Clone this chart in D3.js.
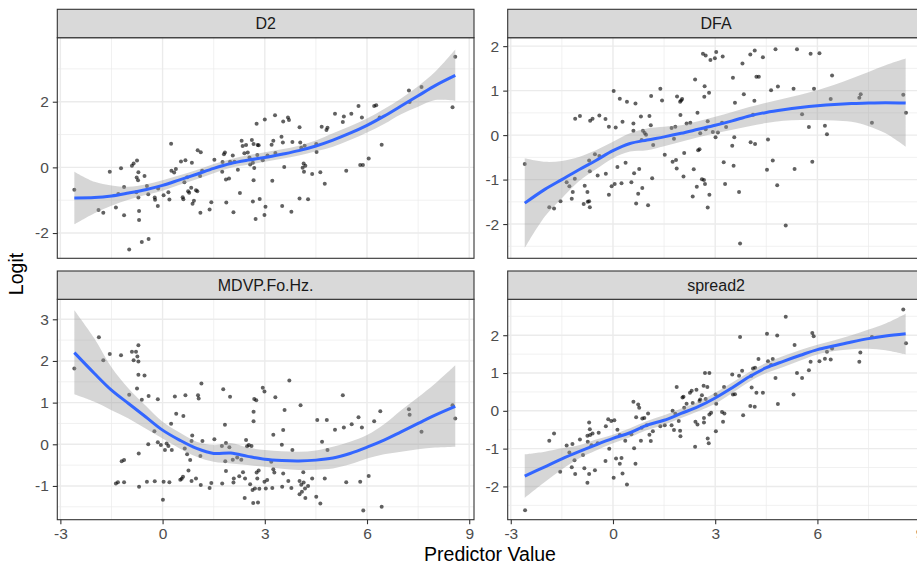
<!DOCTYPE html>
<html>
<head>
<meta charset="utf-8">
<script src="https://cdn.jsdelivr.net/npm/d3@7"></script>
<style>
  body { margin: 0; background: #fff; }
  svg { display: block; }
  text { font-family: "Liberation Sans", Arial, Helvetica, sans-serif; }
</style>
</head>
<body>
<div id="chart"></div>
<script>
// facet names, in the order they are drawn
var facets = ["D2", "DFA", "MDVP.Fo.Hz.", "spread2"];

// x axis is shared by all four panels
var xTicks = [-3, 0, 3, 6, 9];
var xLimits = [-3.09, 9.14];

// y axes are free
var d2Ticks = [-2, 0, 2];
var dfaTicks = [-2, -1, 0, 1, 2];
var mdvpTicks = [-1, 0, 1, 2, 3];
var spreadTicks = [-2, -1, 0, 1, 2];

var d2Limits = [-2.77, 3.95];
var dfaLimits = [-2.77, 2.19];
var mdvpLimits = [-1.81, 3.48];
var spreadLimits = [-2.88, 2.95];

// ---- points ----
var d2X = [-2.59,-1.88,-1.74,-1.55,-1.37,-1.30,-1.22,-1.13,-1.13,-0.98,-0.90,-0.85,-0.75,-0.76,-0.72,-0.71,-0.77,-0.71,-0.69,-0.69,
  -0.61,-0.53,-0.46,-0.42,-0.41,-0.23,-0.22,-0.14,-0.13,0.03,0.17,0.20,0.25,0.26,0.34,0.39,0.54,0.59,0.61,0.67,
  0.64,0.72,0.75,0.78,0.84,0.86,0.88,0.92,0.98,1.02,1.03,1.12,1.11,1.16,1.10,1.38,1.43,1.52,1.75,1.76,
  1.80,1.83,1.86,1.87,1.95,1.98,2.06,2.08,2.11,2.21,2.27,2.32,2.35,2.40,2.45,2.50,2.55,2.57,2.62,2.65,
  2.67,2.67,2.69,2.65,2.73,2.76,2.79,2.78,2.82,2.85,2.94,3.00,3.02,2.99,3.08,3.20,3.22,3.25,3.30,3.31,
  3.49,3.51,3.53,3.54,3.57,3.68,3.71,3.78,3.81,4.02,4.02,4.04,4.07,4.11,4.14,4.15,4.19,4.17,4.27,4.39,
  4.51,4.52,4.63,4.67,4.76,4.81,4.84,5.06,5.29,5.32,5.39,5.54,5.75,5.80,5.88,5.85,6.05,6.21,6.27,6.37,
  6.43,7.23,7.25,7.60,8.51,8.59];
var d2Y = [-0.68,-1.30,-1.38,-0.13,-1.22,-0.81,-0.03,-0.60,-1.46,-2.50,0.05,0.12,0.21,-0.31,-0.39,-0.15,-0.76,-0.92,-1.33,-1.60,
  -2.27,-0.26,-0.57,-0.82,-2.18,-0.92,-0.99,-1.18,-0.64,-0.85,-0.76,-0.98,0.72,-0.10,-0.16,-0.05,0.18,-0.91,-0.97,0.22,
  -0.45,-0.30,-0.73,-0.77,-0.62,0.14,-1.11,-1.02,-0.70,-0.73,0.52,0.46,-1.38,-0.10,-0.26,-1.28,-1.06,0.23,-0.13,0.16,
  0.40,0.45,-0.37,-1.07,-0.34,0.17,0.36,-1.37,0.17,-0.07,-0.78,0.81,0.65,0.43,0.68,0.45,0.30,0.09,0.83,0.14,
  0.71,-0.39,-0.02,-1.04,-1.57,1.33,0.68,0.38,0.67,-0.96,0.22,1.46,-1.20,-1.45,0.36,0.69,-0.41,0.81,1.59,0.44,
  0.93,-1.18,0.76,1.40,0.01,1.52,1.44,-1.35,0.77,1.22,-0.95,0.76,0.60,-0.01,0.12,-0.13,0.05,0.66,-0.97,-0.20,
  0.71,0.47,-0.15,1.24,-0.50,1.14,1.21,1.63,1.38,1.55,-0.10,1.63,1.87,0.07,0.07,1.52,0.27,1.87,1.89,1.52,
  0.69,2.34,1.99,2.45,1.83,3.37];

var dfaX = [-2.59,-1.87,-1.73,-1.54,-1.36,-1.28,-1.21,-1.18,-1.12,-1.11,-0.97,-0.86,-0.83,-0.75,-0.74,-0.70,-0.68,-0.70,-0.68,-0.67,
  -0.60,-0.53,-0.45,-0.40,-0.40,-0.22,-0.21,-0.12,-0.12,-0.04,0.05,0.02,0.08,0.13,0.20,0.25,0.28,0.37,0.41,0.54,
  0.60,0.60,0.62,0.66,0.68,0.74,0.77,0.82,0.84,0.86,0.88,0.93,0.97,1.03,1.07,1.11,1.12,1.15,1.18,1.39,
  1.44,1.52,1.72,1.75,1.79,1.83,1.85,1.88,1.87,1.97,1.98,2.00,2.03,2.09,2.07,2.16,2.27,2.34,2.37,2.41,
  2.46,2.48,2.50,2.54,2.56,2.61,2.64,2.67,2.68,2.69,2.70,2.72,2.72,2.78,2.78,2.82,2.83,2.86,2.93,2.99,
  3.01,3.03,3.08,3.20,3.22,3.25,3.29,3.32,3.50,3.52,3.54,3.56,3.58,3.70,3.73,3.80,3.84,4.03,4.04,4.11,
  4.15,4.16,4.17,4.21,4.28,4.40,4.52,4.55,4.64,4.69,4.77,4.82,4.84,5.07,5.30,5.33,5.40,5.55,5.75,5.80,
  5.85,5.90,6.06,6.22,6.28,6.39,6.43,7.23,7.27,7.60,8.52,8.60];
var dfaY = [-0.65,-1.62,-1.65,-1.49,-1.06,-1.15,-1.43,-1.28,-0.98,0.37,0.43,-1.55,-1.14,-1.28,-1.50,-1.49,-1.62,-0.57,-0.81,0.32,
  0.37,-0.43,-0.91,0.44,-0.47,0.36,-0.87,0.19,-1.34,-1.15,-1.10,0.99,0.17,-0.72,0.82,-1.08,0.30,-0.62,0.75,-1.06,
  0.26,0.10,-0.86,0.71,-1.54,-1.32,-0.76,0.42,-0.11,-1.19,0.10,0.05,0.01,-1.58,0.43,0.22,0.88,-0.97,-0.22,1.04,
  0.78,-0.44,0.16,-0.60,-0.08,0.19,-0.56,0.87,-0.75,0.75,0.45,0.78,0.81,-0.40,-0.93,0.26,0.28,-1.38,-0.77,1.25,
  -1.16,0.50,-0.34,-0.32,0.04,-0.99,1.83,-1.01,0.86,1.10,-1.10,1.79,0.13,0.31,-1.63,0.95,-1.34,1.69,0.07,1.73,
  -0.05,1.87,0.06,0.28,1.77,-0.61,-1.10,0.18,-0.24,1.29,-0.69,-0.05,0.73,-1.28,-2.44,1.61,0.92,1.81,-0.16,0.46,
  0.77,1.90,-0.20,1.31,1.31,1.75,-0.78,-0.10,1.01,-0.57,1.93,-1.13,1.09,-2.03,1.04,-0.76,1.93,0.47,0.18,1.83,
  -0.60,1.04,1.84,0.21,0.02,0.81,1.34,0.84,0.92,0.28,0.91,0.50];

var mdvpX = [-2.59,-1.87,-1.74,-1.55,-1.37,-1.31,-1.22,-1.20,-1.13,-1.13,-0.98,-0.90,-0.85,-0.78,-0.75,-0.74,-0.71,-0.71,-0.71,-0.70,
  -0.69,-0.61,-0.53,-0.46,-0.42,-0.41,-0.24,-0.23,-0.14,-0.14,-0.05,0.01,0.03,0.07,0.12,0.17,0.20,0.25,0.27,0.36,
  0.40,0.52,0.56,0.60,0.61,0.65,0.67,0.72,0.76,0.81,0.85,0.87,0.85,0.98,1.04,1.06,1.11,1.12,1.14,1.17,
  1.38,1.43,1.52,1.74,1.75,1.78,1.83,1.84,1.86,1.86,1.96,1.98,2.06,2.08,2.09,2.19,2.25,2.31,2.36,2.41,
  2.42,2.45,2.48,2.53,2.57,2.61,2.64,2.66,2.67,2.67,2.69,2.71,2.75,2.76,2.78,2.82,2.80,2.84,2.94,2.99,
  2.99,3.03,3.07,3.19,3.22,3.25,3.25,3.28,3.31,3.50,3.51,3.54,3.54,3.58,3.69,3.72,3.78,3.81,4.02,4.02,
  4.05,4.07,4.09,4.13,4.14,4.18,4.19,4.27,4.39,4.51,4.54,4.63,4.68,4.76,4.82,4.84,5.06,5.29,5.32,5.39,
  5.55,5.75,5.80,5.85,5.89,6.05,6.21,6.39,6.43,7.23,7.25,7.60,8.51,8.59];
var mdvpY = [1.82,2.57,2.02,2.17,-0.94,-0.91,2.14,-0.41,-0.38,-0.91,1.19,2.22,2.02,2.22,1.34,2.11,1.99,2.38,1.67,-0.22,
  -1.02,1.07,1.65,-0.90,0.00,1.16,0.31,-0.89,1.08,0.05,-0.02,-1.33,-0.90,-0.14,0.02,-0.04,-0.91,0.49,-0.14,1.15,
  0.73,-0.85,-0.83,-0.78,0.68,-0.10,1.18,-0.24,-0.63,-0.38,-0.88,0.21,0.08,-0.82,1.18,1.10,-0.28,-0.98,1.46,0.08,
  -1.05,-0.93,0.12,-0.04,-0.94,1.32,0.47,-0.41,0.03,-0.64,-0.07,1.14,-0.37,-0.92,-0.82,-0.32,-0.77,-0.37,-0.67,-1.29,
  -0.82,0.10,-0.05,-0.02,-0.96,-0.04,-1.10,-1.41,0.78,0.55,1.09,-1.06,1.06,-0.68,-0.82,-0.63,-1.40,-1.07,1.36,1.27,
  -0.90,-1.06,-0.86,-0.42,-1.05,0.23,-0.60,-0.68,1.13,-0.01,-1.02,-0.70,0.34,0.82,-0.88,1.53,-1.05,-0.14,-0.88,-1.20,
  0.94,-0.97,-1.14,-0.67,-0.92,-1.06,-1.29,-1.00,-0.82,-1.26,0.58,-1.42,0.06,-0.82,0.58,-0.14,0.35,1.18,0.40,-0.91,
  0.48,0.65,-0.90,0.40,-1.59,-0.76,0.55,0.79,-1.50,0.84,0.71,0.30,0.94,0.62];

var spreadX = [-2.58,-1.87,-1.73,-1.55,-1.36,-1.28,-1.19,-1.21,-1.13,-1.11,-0.97,-0.88,-0.84,-0.75,-0.75,-0.74,-0.70,-0.70,-0.68,-0.67,
  -0.63,-0.60,-0.53,-0.45,-0.42,-0.22,-0.21,-0.14,-0.11,-0.05,0.02,0.04,0.09,0.13,0.20,0.20,0.25,0.28,0.36,0.41,
  0.54,0.60,0.62,0.66,0.68,0.74,0.77,0.82,0.84,0.86,0.92,0.99,1.03,1.07,1.11,1.17,1.39,1.52,1.72,1.75,
  1.79,1.83,1.87,1.93,1.97,1.98,2.04,2.07,2.09,2.16,2.26,2.31,2.34,2.41,2.45,2.42,2.48,2.54,2.56,2.61,
  2.66,2.67,2.67,2.70,2.72,2.77,2.78,2.81,2.83,2.83,2.88,3.01,3.02,3.03,3.20,3.23,3.26,3.27,3.50,3.52,
  3.58,3.70,3.73,3.79,3.82,4.03,4.06,4.07,4.11,4.16,4.17,4.21,4.27,4.40,4.52,4.55,4.64,4.69,4.77,4.82,
  4.84,5.07,5.30,5.33,5.40,5.55,5.75,5.80,5.85,5.89,6.06,6.22,6.28,6.39,6.43,7.23,7.26,7.60,8.52,8.60];
var spreadY = [-2.63,-0.79,-0.60,-1.61,-0.92,-1.10,-0.88,-1.49,-1.31,-1.67,-0.76,-1.17,-1.52,-0.66,-1.90,-0.82,-0.31,-1.67,-0.49,-0.64,
  -0.91,-0.60,-1.57,-0.86,-0.58,-1.33,-0.41,-0.22,-1.00,-0.27,-1.77,-0.25,-1.26,-0.50,-1.40,-0.64,-1.25,-1.66,-0.79,-1.95,
  -0.62,0.24,-0.99,-1.40,-0.17,0.17,0.08,-0.79,-0.45,-0.20,-0.19,-0.38,-0.07,-0.63,-0.80,-0.54,-0.41,-0.38,-0.38,0.00,
  -0.51,-0.08,0.63,-0.27,-0.53,-0.67,0.35,0.37,0.08,0.19,0.48,0.53,0.21,-0.95,0.56,-0.29,-0.36,0.26,0.30,0.41,
  0.66,-0.19,-0.31,1.00,0.31,0.63,-0.73,-0.86,1.00,-0.10,-0.05,0.43,-0.54,0.19,-0.03,-0.29,0.63,-0.07,0.96,0.43,
  0.44,0.93,1.95,1.06,-0.12,0.13,0.93,0.62,1.12,0.11,1.14,0.48,1.37,0.48,2.04,1.31,1.21,1.37,0.87,1.99,
  0.18,2.49,0.43,1.74,1.00,0.87,1.07,1.30,2.06,1.97,1.31,1.38,1.56,1.36,1.65,1.30,1.54,1.95,2.68,1.79];

// ---- loess fits and 95% bands ----
var smoothX = [-2.59,-2,-1.5,-1,-0.5,0,0.5,1,1.5,2,2.5,3,3.5,4,4.5,5,5.5,6,6.5,7,7.5,8,8.59];

var d2Fit = [-0.93,-0.92,-0.87,-0.78,-0.68,-0.55,-0.38,-0.21,-0.03,0.12,0.22,0.30,0.40,0.51,0.65,0.83,1.04,1.28,1.56,1.87,2.18,2.49,2.80];
var d2Lo  = [-1.74,-1.40,-1.17,-0.99,-0.84,-0.71,-0.53,-0.36,-0.18,-0.01,0.08,0.17,0.26,0.36,0.49,0.63,0.83,1.06,1.32,1.62,1.85,2.05,2.03];
var d2Hi  = [-0.13,-0.44,-0.55,-0.59,-0.52,-0.39,-0.24,-0.08,0.10,0.25,0.37,0.46,0.55,0.66,0.82,1.04,1.25,1.49,1.78,2.10,2.47,2.91,3.59];

var dfaFit = [-1.53,-1.22,-1.00,-0.78,-0.57,-0.35,-0.19,-0.11,-0.04,0.04,0.13,0.22,0.32,0.43,0.51,0.57,0.62,0.66,0.69,0.71,0.72,0.73,0.72];
var dfaLo  = [-2.54,-1.83,-1.42,-1.04,-0.77,-0.52,-0.37,-0.34,-0.25,-0.15,-0.05,0.04,0.12,0.20,0.27,0.32,0.34,0.34,0.33,0.30,0.20,0.04,-0.26];
var dfaHi  = [-0.52,-0.60,-0.58,-0.49,-0.34,-0.15,0.04,0.15,0.19,0.22,0.31,0.41,0.52,0.63,0.73,0.82,0.91,1.01,1.13,1.27,1.42,1.57,1.72];

var mdvpFit = [2.20,1.70,1.30,0.98,0.66,0.34,0.10,-0.10,-0.22,-0.21,-0.29,-0.36,-0.39,-0.40,-0.38,-0.33,-0.22,-0.07,0.10,0.30,0.50,0.70,0.91];
var mdvpLo  = [1.20,1.02,0.82,0.62,0.38,0.14,-0.10,-0.30,-0.42,-0.46,-0.50,-0.54,-0.59,-0.62,-0.61,-0.58,-0.48,-0.34,-0.24,-0.18,-0.12,-0.08,-0.06];
var mdvpHi  = [3.22,2.54,1.85,1.34,0.93,0.54,0.28,0.06,-0.02,0.03,-0.08,-0.14,-0.17,-0.18,-0.15,-0.06,0.06,0.22,0.48,0.82,1.13,1.46,1.90];

var spreadFit = [-1.73,-1.48,-1.27,-1.08,-0.90,-0.73,-0.58,-0.38,-0.25,-0.07,0.11,0.34,0.61,0.90,1.14,1.31,1.47,1.62,1.72,1.82,1.91,1.98,2.04];
var spreadLo  = [-2.30,-1.88,-1.55,-1.26,-1.05,-0.86,-0.70,-0.51,-0.37,-0.19,-0.01,0.19,0.47,0.77,1.00,1.16,1.33,1.49,1.58,1.63,1.64,1.60,1.49];
var spreadHi  = [-1.15,-1.08,-0.99,-0.91,-0.76,-0.63,-0.46,-0.27,-0.12,0.06,0.24,0.48,0.75,1.03,1.27,1.45,1.61,1.75,1.87,2.00,2.15,2.31,2.57];

// ---- layout ----
var svgWidth = 917;
var svgHeight = 567;

var cols = [[57.3, 474], [507.7, 924.4]];   // right panel runs past the frame, as in the source
var rows = [{strip: 9.3, top: 37.7, bottom: 258.3}, {strip: 271, top: 299.3, bottom: 519.7}];

var panels = [
  {name: facets[0], xs: d2X, ys: d2Y, fit: d2Fit, lo: d2Lo, hi: d2Hi, ticks: d2Ticks, lim: d2Limits, col: 0, row: 0},
  {name: facets[1], xs: dfaX, ys: dfaY, fit: dfaFit, lo: dfaLo, hi: dfaHi, ticks: dfaTicks, lim: dfaLimits, col: 1, row: 0},
  {name: facets[2], xs: mdvpX, ys: mdvpY, fit: mdvpFit, lo: mdvpLo, hi: mdvpHi, ticks: mdvpTicks, lim: mdvpLimits, col: 0, row: 1},
  {name: facets[3], xs: spreadX, ys: spreadY, fit: spreadFit, lo: spreadLo, hi: spreadHi, ticks: spreadTicks, lim: spreadLimits, col: 1, row: 1}
];

var gridColor = "#EBEBEB";
var frameColor = "#333333";
var tickText = "#4D4D4D";
var fontStack = "'Liberation Sans', Arial, sans-serif";

// plain hyphen minus, no decimals, like R prints them
var fmt = function(d) { return String(d); };

var svg = d3.select("#chart")
  .append("svg")
  .attr("width", svgWidth)
  .attr("height", svgHeight);

// minor breaks sit halfway between the major ones
function minorBreaks(ticks, lim) {
  var step = ticks[1] - ticks[0];
  var out = [];
  var ext = [ticks[0] - step].concat(ticks, [ticks[ticks.length - 1] + step]);
  for (var i = 0; i < ext.length - 1; i++) {
    var m = (ext[i] + ext[i + 1]) / 2;
    if (m > lim[0] && m < lim[1]) out.push(m);
  }
  return out;
}

panels.forEach(function(p, idx) {
  var x0 = cols[p.col][0], x1 = cols[p.col][1];
  var r = rows[p.row];

  var x = d3.scaleLinear().domain(xLimits).range([x0, x1]);
  var y = d3.scaleLinear().domain(p.lim).range([r.bottom, r.top]);

  var g = svg.append("g");

  var clipId = "clip" + idx;
  g.append("clipPath").attr("id", clipId)
    .append("rect")
    .attr("x", x0).attr("y", r.top)
    .attr("width", x1 - x0).attr("height", r.bottom - r.top);

  var inner = g.append("g").attr("clip-path", "url(#" + clipId + ")");

  inner.append("rect")
    .attr("x", x0).attr("y", r.top)
    .attr("width", x1 - x0).attr("height", r.bottom - r.top)
    .attr("fill", "#fff");

  // grid
  var xTickVals = xTicks.filter(function(v) { return v >= xLimits[0] && v <= xLimits[1]; });
  var yTickVals = p.ticks.filter(function(v) { return v >= p.lim[0] && v <= p.lim[1]; });

  inner.selectAll(".ymin").data(minorBreaks(p.ticks, p.lim)).enter().append("line")
    .attr("x1", x0).attr("x2", x1)
    .attr("y1", function(d) { return y(d); }).attr("y2", function(d) { return y(d); })
    .attr("stroke", gridColor).attr("stroke-width", 0.7);
  inner.selectAll(".xmin").data(minorBreaks(xTicks, xLimits)).enter().append("line")
    .attr("y1", r.top).attr("y2", r.bottom)
    .attr("x1", function(d) { return x(d); }).attr("x2", function(d) { return x(d); })
    .attr("stroke", gridColor).attr("stroke-width", 0.7);
  inner.selectAll(".ymaj").data(yTickVals).enter().append("line")
    .attr("x1", x0).attr("x2", x1)
    .attr("y1", function(d) { return y(d); }).attr("y2", function(d) { return y(d); })
    .attr("stroke", gridColor).attr("stroke-width", 1.4);
  inner.selectAll(".xmaj").data(xTickVals).enter().append("line")
    .attr("y1", r.top).attr("y2", r.bottom)
    .attr("x1", function(d) { return x(d); }).attr("x2", function(d) { return x(d); })
    .attr("stroke", gridColor).attr("stroke-width", 1.4);

  // points
  var pts = p.xs.map(function(v, i) { return {x: v, y: p.ys[i]}; });
  inner.selectAll("circle").data(pts).enter().append("circle")
    .attr("cx", function(d) { return x(d.x); })
    .attr("cy", function(d) { return y(d.y); })
    .attr("r", 2)
    .attr("fill", "#000")
    .attr("opacity", 0.62);

  // smooth band + line
  var sm = smoothX.map(function(v, i) { return {x: v, fit: p.fit[i], lo: p.lo[i], hi: p.hi[i]}; });
  inner.append("path").datum(sm)
    .attr("fill", "#999999").attr("fill-opacity", 0.4)
    .attr("d", d3.area()
      .x(function(d) { return x(d.x); })
      .y0(function(d) { return y(d.lo); })
      .y1(function(d) { return y(d.hi); })
      .curve(d3.curveCatmullRom));
  inner.append("path").datum(sm)
    .attr("fill", "none").attr("stroke", "#3366FF").attr("stroke-width", 3)
    .attr("d", d3.line()
      .x(function(d) { return x(d.x); })
      .y(function(d) { return y(d.fit); })
      .curve(d3.curveCatmullRom));

  // panel border
  g.append("rect")
    .attr("x", x0).attr("y", r.top)
    .attr("width", x1 - x0).attr("height", r.bottom - r.top)
    .attr("fill", "none").attr("stroke", frameColor).attr("stroke-width", 1.1);

  // strip
  g.append("rect")
    .attr("x", x0).attr("y", r.strip)
    .attr("width", x1 - x0).attr("height", r.top - r.strip)
    .attr("fill", "#D9D9D9").attr("stroke", frameColor).attr("stroke-width", 1.1);
  g.append("text")
    .attr("x", (x0 + x1) / 2).attr("y", (r.strip + r.top) / 2)
    .attr("dy", "0.36em")
    .attr("text-anchor", "middle")
    .attr("fill", "#1A1A1A")
    .style("font-size", "16px")
    .text(p.name);

  // y axis
  var leftAxis = d3.axisLeft(y).tickValues(yTickVals).tickFormat(fmt).tickSize(4.5).tickPadding(4);
  var ay = g.append("g").attr("transform", "translate(" + x0 + ",0)").call(leftAxis);
  ay.select(".domain").remove();
  ay.selectAll("line").attr("stroke", frameColor).attr("stroke-width", 1.1);
  ay.selectAll("text").attr("fill", tickText).style("font-size", "15.5px").style("font-family", fontStack);

  // x axis only on bottom row
  if (p.row === 1) {
    var bottomAxis = d3.axisBottom(x).tickValues(xTickVals).tickFormat(fmt).tickSize(4.5).tickPadding(4);
    var ax = g.append("g").attr("transform", "translate(0," + r.bottom + ")").call(bottomAxis);
    ax.select(".domain").remove();
    ax.selectAll("line").attr("stroke", frameColor).attr("stroke-width", 1.1);
    ax.selectAll("text").attr("fill", tickText).style("font-size", "15.5px").style("font-family", fontStack);
  }
});

// axis titles
svg.append("text")
  .attr("transform", "translate(23,274) rotate(-90)")
  .attr("text-anchor", "middle")
  .attr("fill", "#000")
  .style("font-size", "19.5px")
  .text("Logit");

svg.append("text")
  .attr("x", 490).attr("y", 561)
  .attr("text-anchor", "middle")
  .attr("fill", "#000")
  .style("font-size", "19.5px")
  .text("Predictor Value");
</script>
</body>
</html>
